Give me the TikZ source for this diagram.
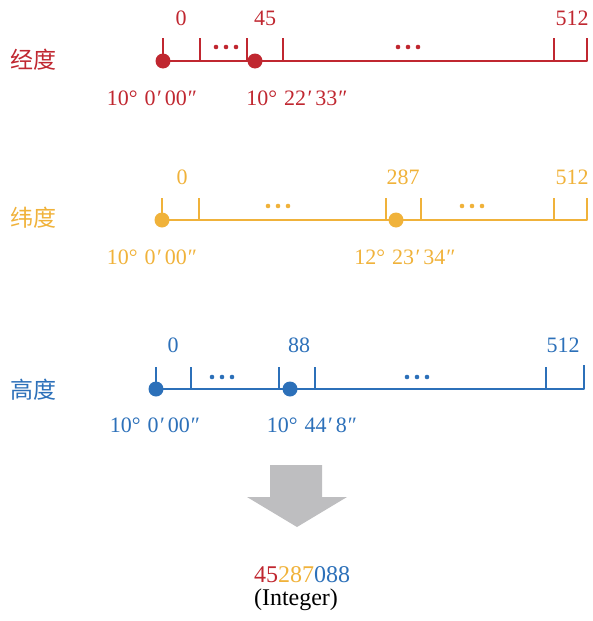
\documentclass[tikz,border=0pt]{standalone}
\usepackage{fontspec}
\setmainfont{Liberation Serif}
\newfontfamily\cjk{Noto Sans CJK SC}
\definecolor{cred}{RGB}{192,39,48}
\definecolor{cyel}{RGB}{240,178,58}
\definecolor{cblu}{RGB}{44,112,185}
\definecolor{cgray}{RGB}{190,190,192}
\newcommand{\dmslab}[3]{#1°\hspace{7pt}#2\hspace{1.5pt}′\hspace{3pt}#3\hspace{1pt}″}
\begin{document}
\begin{tikzpicture}[x=1pt,y=-1pt,
  every node/.style={font=\fontsize{22}{25}\selectfont, inner sep=0pt},
  cjkname/.style={font=\fontsize{23}{25}\selectfont\cjk},
  axis/.style={line width=1.7pt, line join=round},
  tk/.style={line width=1.5pt},
  pt/.style={circle, fill, inner sep=0pt, minimum size=15pt},
  ell/.pic={\fill (-10,0) circle (2.3pt) (0,0) circle (2.3pt) (10,0) circle (2.3pt);}]
\useasboundingbox (0,0) rectangle (592,621);

% ---------- longitude (red)
\begin{scope}[color=cred]
\node[cjkname] (rname) at (33,60) {经度};
\coordinate (rs) at (163,61);
\coordinate (re) at (587,61);
\draw[axis] (163,38) -- (rs) -- (re) -- (587,38);
\foreach \x in {200,247,283,554} \draw[tk] (\x,38) -- (\x,61);
\node[pt] (rd1) at (rs) {};
\node[pt] (rd2) at (255,61) {};
\pic at (226,47) {ell};
\pic at (408,47) {ell};
\node (r0) at (181,18) {0};
\node (r45) at (265,18) {45};
\node (r512) at (572,18) {512};
\node (rl1) at (152,98) {\dmslab{10}{0}{00}};
\node (rl2) at (297,98) {\dmslab{10}{22}{33}};
\end{scope}

% ---------- latitude (yellow)
\begin{scope}[color=cyel]
\node[cjkname] (yname) at (33,218) {纬度};
\coordinate (ys) at (162,220);
\coordinate (ye) at (587,220);
\draw[axis] (162,198) -- (ys) -- (ye) -- (587,198);
\foreach \x in {199,386,421,554} \draw[tk] (\x,198) -- (\x,220);
\node[pt] (yd1) at (ys) {};
\node[pt] (yd2) at (396,220) {};
\pic at (278,206) {ell};
\pic at (472,206) {ell};
\node (y0) at (182,177) {0};
\node (y287) at (403,177) {287};
\node (y512) at (572,177) {512};
\node (yl1) at (152,257) {\dmslab{10}{0}{00}};
\node (yl2) at (405,257) {\dmslab{12}{23}{34}};
\end{scope}

% ---------- altitude (blue)
\begin{scope}[color=cblu]
\node[cjkname] (bname) at (33,390) {高度};
\coordinate (bs) at (156,389);
\coordinate (be) at (584,389);
\draw[axis] (156,367) -- (bs) -- (be) -- (584,365);
\foreach \x in {191,279,315,546} \draw[tk] (\x,367) -- (\x,389);
\node[pt] (bd1) at (bs) {};
\node[pt] (bd2) at (290,389) {};
\pic at (222,377) {ell};
\pic at (417,377) {ell};
\node (b0) at (173,345) {0};
\node (b88) at (299,345) {88};
\node (b512) at (563,345) {512};
\node (bl1) at (155,425) {\dmslab{10}{0}{00}};
\node (bl2) at (312,425) {\dmslab{10}{44}{8}};
\end{scope}

% ---------- arrow
\fill[cgray] (270,465) -- (322,465) -- (322,497) -- (347,497) -- (297,527)
  -- (247,497) -- (270,497) -- cycle;

\node[font=\fontsize{24}{26}\selectfont] (int) at (302,575) {\textcolor{cred}{45}\textcolor{cyel}{287}\textcolor{cblu}{088}};
\node[font=\fontsize{24}{26}\selectfont] (intl) at (296,600) {(Integer)};
\end{tikzpicture}
\end{document}
